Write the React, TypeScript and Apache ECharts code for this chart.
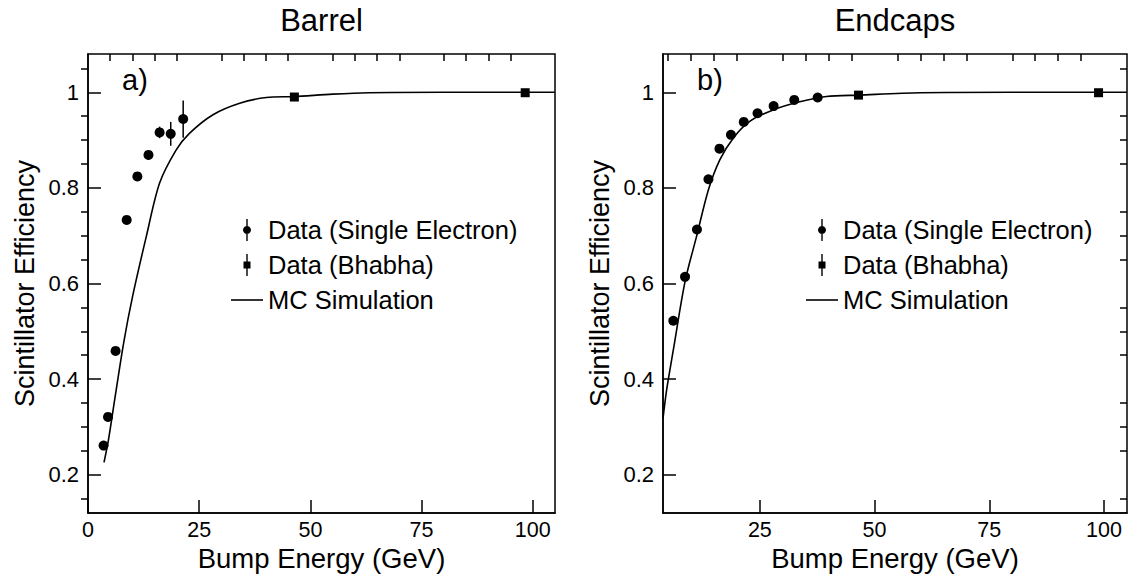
import React, { useEffect, useRef } from "react";
import * as echarts from "echarts";

// ---------- data ----------
// Barrel
const barrelSingleE = [3.5, 4.5, 6.2, 8.7, 11.1, 13.6, 16.1, 18.6, 21.4];
const barrelSingleEff = [0.261, 0.321, 0.459, 0.733, 0.824, 0.869, 0.916, 0.913, 0.944];
const barrelSingleErr = [0.005, 0.005, 0.006, 0.007, 0.008, 0.01, 0.012, 0.025, 0.039];
const barrelBhabhaE = [46.4, 98.3];
const barrelBhabhaEff = [0.99, 0.999];
const barrelBhabhaErr = [0.003, 0.002];
const barrelMcE = [3.6, 4.6, 6.0, 8.0, 10.0, 13.1, 16.1, 19.8, 22.8, 28.1, 34.1, 40.1, 46.3, 55, 63, 80, 105];
const barrelMcEff = [0.226, 0.273, 0.357, 0.475, 0.572, 0.698, 0.81, 0.879, 0.914, 0.953, 0.977, 0.989, 0.991, 0.996, 0.999, 1.0, 1.0];

// Endcaps
const endcapSingleE = [6.15, 8.7, 11.3, 13.8, 16.2, 18.7, 21.5, 24.5, 28.0, 32.5, 37.6];
const endcapSingleEff = [0.522, 0.614, 0.713, 0.818, 0.882, 0.911, 0.938, 0.956, 0.971, 0.984, 0.989];
const endcapSingleErr = [0.005, 0.005, 0.005, 0.005, 0.005, 0.004, 0.004, 0.003, 0.003, 0.003, 0.003];
const endcapBhabhaE = [46.5, 98.8];
const endcapBhabhaEff = [0.994, 0.999];
const endcapBhabhaErr = [0.002, 0.002];
const endcapMcE = [3.9, 4.7, 6.15, 8.7, 11.2, 13.8, 16.3, 19.2, 22.8, 27.9, 33.7, 39.5, 46.5, 60, 80, 105];
const endcapMcEff = [0.318, 0.378, 0.461, 0.604, 0.698, 0.796, 0.859, 0.904, 0.939, 0.963, 0.98, 0.991, 0.994, 0.999, 1.0, 1.0];

// ticks
const yMajorTicks = [0.2, 0.4, 0.6, 0.8, 1.0];
const yMinorTicks = [0.15, 0.25, 0.3, 0.35, 0.45, 0.5, 0.55, 0.65, 0.7, 0.75, 0.85, 0.9, 0.95, 1.05];
const xMajorTicksBarrel = [0, 25, 50, 75, 100];
const xMajorTicksEndcap = [25, 50, 75, 100];
const xMinorTicks = [5, 10, 15, 20, 30, 35, 40, 45, 55, 60, 65, 70, 80, 85, 90, 95];

const panelTitles = ["Barrel", "Endcaps"];
const panelTags = ["a)", "b)"];
const seriesNames = ["Data (Single Electron)", "Data (Bhabha)", "MC Simulation"];
const xTitle = "Bump Energy (GeV)";
const yTitle = "Scintillator Efficiency";

const FONT = "'Liberation Sans', Arial, Helvetica, sans-serif";

const ICON_DOT = "path://M14.3,0 L15.7,0 L15.7,22 L14.3,22 Z M15,7 A4,4 0 1 1 14.99,7 Z";
const ICON_SQ = "path://M14.3,0 L15.7,0 L15.7,22 L14.3,22 Z M11.5,7.5 L18.5,7.5 L18.5,14.5 L11.5,14.5 Z";
const ICON_LINE = "path://M0,10 L32,10 L32,11.6 L0,11.6 Z";

const zip = (a: number[], b: number[]) => a.map((v, i) => [v, b[i]]);
const zip3 = (a: number[], b: number[], c: number[]) => a.map((v, i) => [v, b[i], c[i]]);

function App() {
  const ref = useRef<HTMLDivElement>(null);
  useEffect(() => {
    if (!ref.current) return;
    const chart = echarts.init(ref.current, undefined, { renderer: "svg" });

    const grids = [
      { left: 88, top: 54, width: 467, height: 459 },
      { left: 663, top: 54, width: 464, height: 459 },
    ];
    const xMins = [0, 3.9];
    const xMajors = [xMajorTicksBarrel, xMajorTicksEndcap];

    const lineStyle = { color: "#000", width: 1.5 };
    const xAxes: any[] = [];
    const yAxes: any[] = [];
    [0, 1].forEach((g) => {
      xAxes.push({
        type: "value",
        gridIndex: g,
        min: xMins[g],
        max: 105,
        axisLine: { show: true, lineStyle },
        axisTick: { show: true, inside: true, length: 13, customValues: xMajors[g], lineStyle },
        axisLabel: {
          customValues: xMajors[g],
          color: "#000",
          fontSize: 21.5,
          fontFamily: FONT,
          margin: 6,
        },
        splitLine: { show: false },
        name: xTitle,
        nameLocation: "middle",
        nameGap: 31,
        nameMoveOverlap: false,
        nameTextStyle: { color: "#000", fontSize: 27.5, fontFamily: FONT },
      });
      xAxes.push({
        type: "value",
        gridIndex: g,
        min: xMins[g],
        max: 105,
        axisLine: { show: false },
        axisTick: { show: true, inside: true, length: 7, customValues: xMinorTicks, lineStyle },
        axisLabel: { show: false },
        splitLine: { show: false },
      });
      yAxes.push({
        type: "value",
        gridIndex: g,
        min: 0.12,
        max: 1.08,
        axisLine: { show: true, lineStyle },
        axisTick: { show: true, inside: true, length: 13, customValues: yMajorTicks, lineStyle },
        axisLabel: {
          customValues: yMajorTicks,
          color: "#000",
          fontSize: 22,
          fontFamily: FONT,
          margin: 9,
          formatter: (v: number) => String(+Number(v).toFixed(2)),
        },
        splitLine: { show: false },
        name: yTitle,
        nameLocation: "middle",
        nameGap: 50,
        nameTextStyle: { color: "#000", fontSize: 27, fontFamily: FONT },
      });
      yAxes.push({
        type: "value",
        gridIndex: g,
        min: 0.12,
        max: 1.08,
        axisLine: { show: false },
        axisTick: { show: true, inside: true, length: 7, customValues: yMinorTicks, lineStyle },
        axisLabel: { show: false },
        splitLine: { show: false },
      });
    });

    const errRender = (params: any, api: any) => {
      const x = api.value(0);
      const y = api.value(1);
      const e = api.value(2);
      const p1 = api.coord([x, y - e]);
      const p2 = api.coord([x, y + e]);
      return {
        type: "line",
        shape: { x1: p1[0], y1: p1[1], x2: p2[0], y2: p2[1] },
        style: { stroke: "#000", lineWidth: 1.5 },
      };
    };

    const panels = [
      {
        single: zip3(barrelSingleE, barrelSingleEff, barrelSingleErr),
        bhabha: zip3(barrelBhabhaE, barrelBhabhaEff, barrelBhabhaErr),
        mc: zip(barrelMcE, barrelMcEff),
      },
      {
        single: zip3(endcapSingleE, endcapSingleEff, endcapSingleErr),
        bhabha: zip3(endcapBhabhaE, endcapBhabhaEff, endcapBhabhaErr),
        mc: zip(endcapMcE, endcapMcEff),
      },
    ];

    const series: any[] = [];
    panels.forEach((p, g) => {
      const xi = g * 2;
      const yi = g * 2;
      series.push({
        type: "line",
        name: seriesNames[2],
        xAxisIndex: xi,
        yAxisIndex: yi,
        data: p.mc,
        smooth: 0.3,
        showSymbol: false,
        symbol: "none",
        itemStyle: { color: "#000" },
        lineStyle: { color: "#000", width: 1.6 },
        z: 2,
      });
      series.push({
        type: "custom",
        xAxisIndex: xi,
        yAxisIndex: yi,
        data: [...p.single, ...p.bhabha],
        renderItem: errRender,
        encode: { x: 0, y: 1 },
        z: 3,
        silent: true,
      });
      series.push({
        type: "scatter",
        name: seriesNames[0],
        xAxisIndex: xi,
        yAxisIndex: yi,
        data: p.single.map((d) => [d[0], d[1]]),
        symbol: "circle",
        symbolSize: 10,
        itemStyle: { color: "#000", opacity: 1 },
        z: 4,
      });
      series.push({
        type: "scatter",
        name: seriesNames[1],
        xAxisIndex: xi,
        yAxisIndex: yi,
        data: p.bhabha.map((d) => [d[0], d[1]]),
        symbol: "rect",
        symbolSize: 9,
        itemStyle: { color: "#000", opacity: 1 },
        z: 4,
      });
    });

    const legendLefts = [226, 801];
    const legends = legendLefts.map((l) => ({
      left: l,
      top: 212,
      orient: "vertical",
      itemWidth: 32,
      itemHeight: 22,
      itemGap: 9,
      selectedMode: false,
      itemStyle: { color: "#000", opacity: 1 },
      textStyle: { color: "#000", fontSize: 25.5, fontFamily: FONT },
      data: [
        { name: seriesNames[0], icon: ICON_DOT },
        { name: seriesNames[1], icon: ICON_SQ },
        { name: seriesNames[2], icon: ICON_LINE },
      ],
    }));

    const centers = [88 + 467 / 2, 663 + 464 / 2];
    const graphic: any[] = [];
    [0, 1].forEach((g) => {
      graphic.push({
        type: "text",
        x: centers[g],
        y: 20,
        style: {
          text: panelTitles[g],
          fill: "#000",
          font: `31px ${FONT}`,
          align: "center",
          verticalAlign: "middle",
          textAlign: "center",
          textVerticalAlign: "middle",
        },
      });
      graphic.push({
        type: "text",
        x: grids[g].left + 34,
        y: 80,
        style: {
          text: panelTags[g],
          fill: "#000",
          font: `29px ${FONT}`,
          align: "left",
          verticalAlign: "middle",
          textAlign: "left",
          textVerticalAlign: "middle",
        },
      });
    });

    chart.setOption({
      animation: false,
      backgroundColor: "#fff",
      textStyle: { fontFamily: FONT },
      grid: grids.map((gr) => ({
        ...gr,
        show: true,
        borderColor: "#000",
        borderWidth: 1.5,
        backgroundColor: "transparent",
      })),
      xAxis: xAxes,
      yAxis: yAxes,
      legend: legends,
      series,
      graphic,
    });

    return () => chart.dispose();
  }, []);

  return (
    <div
      ref={ref}
      style={{ position: "fixed", left: 0, top: 0, width: 1132, height: 579, background: "#fff" }}
    />
  );
}

export default App;
